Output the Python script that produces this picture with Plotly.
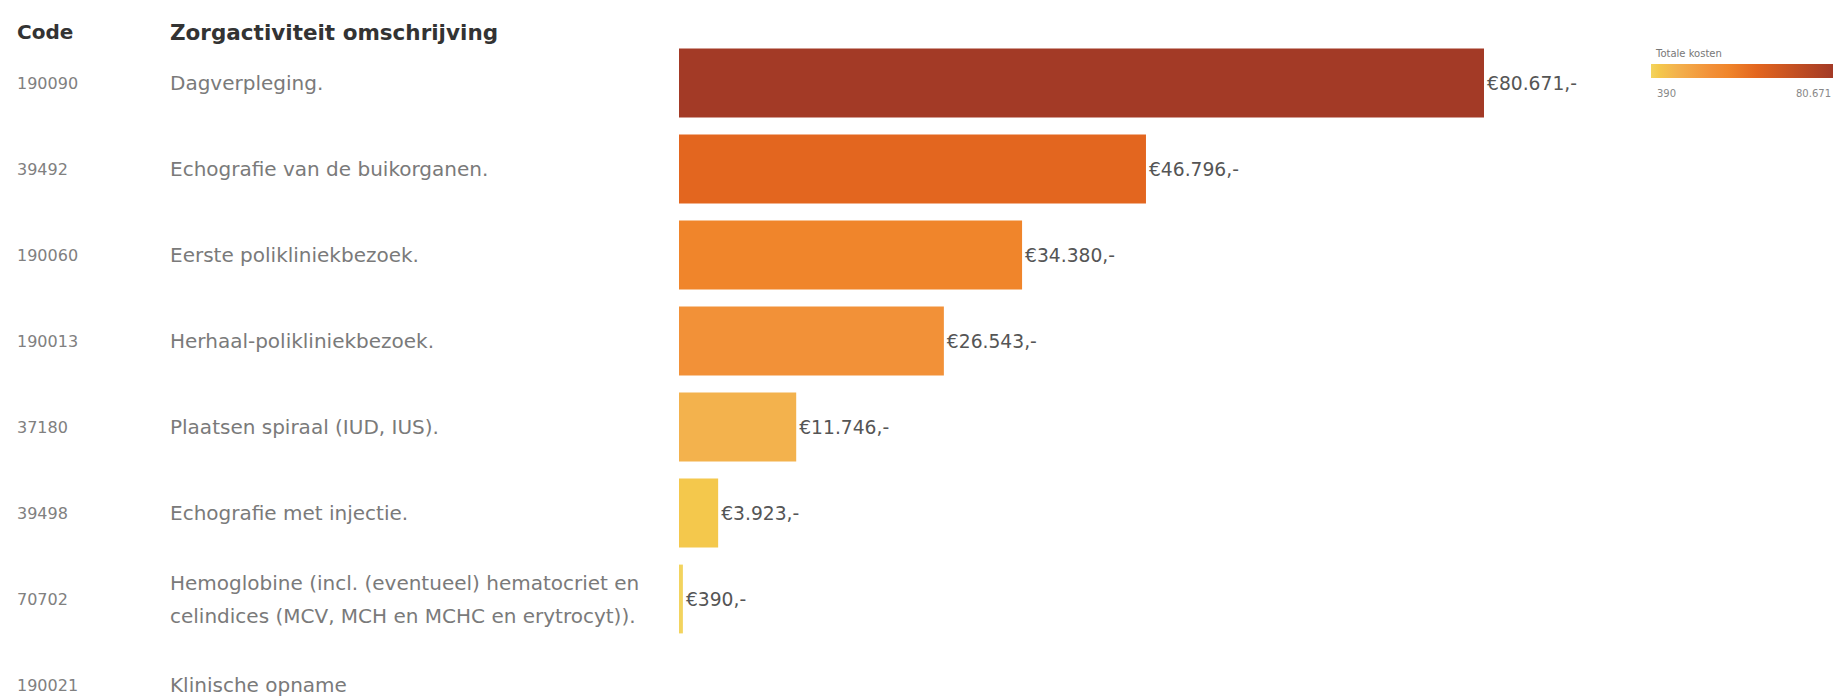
import plotly.graph_objects as go

codes = ["190090", "39492", "190060", "190013", "37180", "39498", "70702", "190021"]
descriptions = [
    "Dagverpleging.",
    "Echografie van de buikorganen.",
    "Eerste polikliniekbezoek.",
    "Herhaal-polikliniekbezoek.",
    "Plaatsen spiraal (IUD, IUS).",
    "Echografie met injectie.",
    "Hemoglobine (incl. (eventueel) hematocriet en<br>celindices (MCV, MCH en MCHC en erytrocyt)).",
    "Klinische opname",
]
costs = [80671, 46796, 34380, 26543, 11746, 3923, 390, None]

cmin, cmax = 390, 80671
colorscale = [
    [0.0, "#f3d45e"],
    [0.044, "#f4c84c"],
    [0.14, "#f3b24d"],
    [0.33, "#f29038"],
    [0.42, "#f0862b"],
    [0.58, "#e3661f"],
    [1.0, "#a33a26"],
]

W, H = 1839, 698
FONT = "DejaVu Sans, sans-serif"
row_idx = list(range(len(codes)))

fig = go.Figure()
fig.add_trace(go.Bar(
    x=costs,
    y=row_idx,
    orientation="h",
    width=0.8,
    marker=dict(
        color=[c if c is not None else cmin for c in costs],
        colorscale=colorscale,
        cmin=cmin,
        cmax=cmax,
        line=dict(width=0),
        colorbar=dict(
            orientation="h",
            x=1651 / W,
            xanchor="left",
            y=1 - 64 / H,
            yanchor="top",
            lenmode="pixels",
            len=182,
            thicknessmode="pixels",
            thickness=14,
            outlinewidth=0,
            xpad=0,
            ypad=0,
            showticklabels=False,
            ticks="",
        ),
    ),
    texttemplate="€%{x:,.0f},-",
    textposition="outside",
    textfont=dict(size=18.7, color="#555", family=FONT),
    cliponaxis=False,
    hoverinfo="skip",
))

annotations = []
# Header
annotations.append(dict(x=15 / W, y=1 - 32 / H, xref="paper", yref="paper", xanchor="left",
                        yanchor="middle", showarrow=False, text="<b>Code</b>",
                        font=dict(size=20, color="#333", family=FONT)))
annotations.append(dict(x=168 / W, y=1 - 32 / H, xref="paper", yref="paper", xanchor="left",
                        yanchor="middle", showarrow=False, text="<b>Zorgactiviteit omschrijving</b>",
                        font=dict(size=21.5, color="#333", family=FONT)))
for i, (code, desc) in enumerate(zip(codes, descriptions)):
    annotations.append(dict(x=15 / W, y=i, xref="paper", yref="y", xanchor="left",
                            yanchor="middle", showarrow=False, text=code,
                            font=dict(size=16, color="#808080", family=FONT)))
    lines = desc.split("<br>")
    n = len(lines)
    for k, line in enumerate(lines):
        shift = (k - (n - 1) / 2) * 33
        annotations.append(dict(x=168 / W, y=i, xref="paper", yref="y", xanchor="left",
                                yanchor="middle", yshift=-shift, showarrow=False, text=line,
                                font=dict(size=20, color="#7a7a7a", family=FONT)))
# Colorbar title and end labels
annotations.append(dict(x=1653 / W, y=1 - 54 / H, xref="paper", yref="paper", xanchor="left",
                        yanchor="middle", showarrow=False, text="Totale kosten",
                        font=dict(size=10, color="#777", family=FONT)))
annotations.append(dict(x=1655 / W, y=1 - 94 / H, xref="paper", yref="paper", xanchor="left",
                        yanchor="middle", showarrow=False, text=f"{cmin}",
                        font=dict(size=10, color="#888", family=FONT)))
annotations.append(dict(x=1833 / W, y=1 - 94 / H, xref="paper", yref="paper", xanchor="right",
                        yanchor="middle", showarrow=False, text=f"{cmax:,}".replace(",", "."),
                        font=dict(size=10, color="#888", family=FONT)))

px_per_unit = 805 / 80671
x_left = 679
fig.update_layout(
    width=W, height=H,
    margin=dict(l=0, r=0, t=0, b=0),
    paper_bgcolor="white",
    plot_bgcolor="white",
    separators=",.",
    showlegend=False,
    annotations=annotations,
    xaxis=dict(domain=[x_left / W, 1.0], range=[0, (W - x_left) / px_per_unit],
               visible=False, fixedrange=True),
    yaxis=dict(domain=[0, 1], range=[(H - 83) / 86, -83 / 86], visible=False, fixedrange=True),
)

fig.write_html("out.html")
